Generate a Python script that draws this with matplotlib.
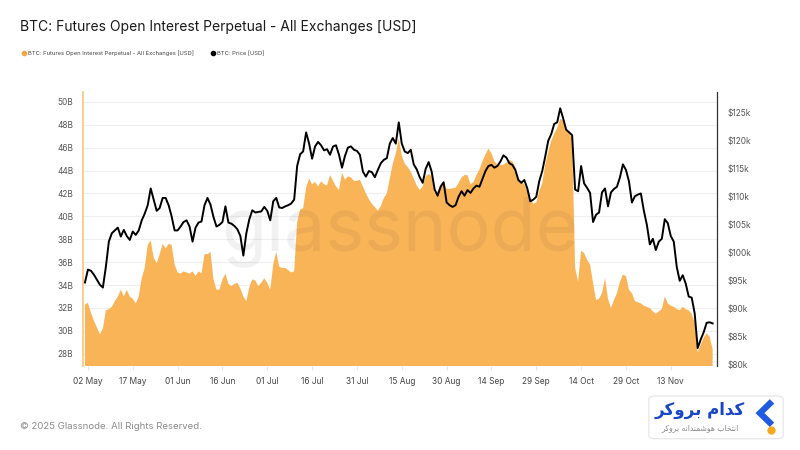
import matplotlib.pyplot as plt
import matplotlib.dates as mdates
import pandas as pd
from matplotlib.lines import Line2D
from matplotlib.patches import FancyBboxPatch

plt.rcParams['font.family'] = ['Inter', 'DejaVu Sans']

# daily values, starting 1 May 2025
start_date = "2025-05-01"

oi_billions = [
    32.3, 32.45, 31.6, 30.9, 30.3, 29.7, 30.2, 31.8, 31.9, 32.1,
    32.6, 33.0, 33.6, 33.0, 33.6, 33.0, 32.8, 32.4, 33.0, 34.6,
    35.5, 37.5, 37.9, 36.4, 35.9, 36.7, 37.6, 37.2, 37.6, 37.5,
    35.8, 35.1, 35.0, 35.2, 35.1, 35.0, 35.2, 34.8, 35.2, 35.0,
    36.7, 36.7, 36.9, 34.5, 33.6, 33.6, 34.5, 35.0, 34.1, 33.9,
    34.1, 34.2, 33.7, 33.0, 32.6, 33.8, 34.5, 34.4, 33.9, 34.2,
    34.6, 34.2, 33.6, 35.8, 36.9, 35.6, 35.5, 35.5, 35.3, 35.1,
    35.2, 39.5, 40.6, 40.7, 42.5, 43.3, 42.8, 43.0, 42.6, 43.05,
    42.8, 42.7, 43.6, 43.1, 42.6, 42.3, 43.8, 43.2, 43.5, 43.4,
    43.1, 43.1, 43.2, 42.6, 42.0, 41.5, 41.1, 40.8, 40.5, 40.9,
    41.6, 42.0, 43.3, 44.6, 45.5, 46.8, 45.3, 44.6, 44.3, 43.9,
    43.3, 42.7, 42.3, 42.6, 43.5, 43.7, 43.5, 42.0, 42.2, 42.8,
    43.0, 42.4, 42.4, 42.45, 42.5, 42.9, 43.4, 43.6, 43.6, 42.8,
    43.0, 43.6, 44.1, 44.8, 45.4, 45.9, 45.5, 44.8, 44.5, 44.5,
    44.5, 44.7, 44.9, 44.8, 44.3, 43.4, 43.0, 42.8, 42.2, 41.5,
    41.1, 41.2, 42.2, 42.9, 44.5, 45.6, 46.6, 47.2, 47.7, 48.5,
    48.4, 47.6, 47.2, 46.8, 35.5, 34.3, 37.0, 36.8, 36.2, 35.8,
    34.2, 32.7, 32.8, 33.3, 34.6, 32.8, 32.0, 32.7, 33.3, 34.3,
    34.9, 34.8, 33.6, 33.3, 32.6, 32.5, 32.4, 32.2, 32.1, 32.0,
    31.7, 31.5, 31.7, 31.9, 33.0, 32.4, 32.2, 32.1, 31.9, 31.8,
    32.1, 31.9, 31.8, 31.5, 30.7, 28.1, 28.8, 29.4, 29.8, 29.5,
    28.4,
]

price_k = [
    94.7, 97.0, 96.8, 96.1, 95.2, 94.3, 93.8, 97.5, 102.0, 103.5,
    104.0, 104.5, 102.9, 104.1, 103.0, 102.3, 103.8, 103.2, 104.0, 105.8,
    107.0, 108.5, 111.5, 109.5, 107.5, 108.0, 109.8, 109.8, 108.5, 106.5,
    104.0, 104.0, 104.7, 105.5, 105.8, 104.7, 102.0, 104.5, 105.4, 105.6,
    108.5, 109.8, 108.6, 106.4, 104.7, 105.0, 105.5, 108.3, 105.4, 105.2,
    104.8, 104.2, 103.0, 99.5, 103.5, 106.0, 107.6, 107.2, 107.3, 107.4,
    108.2, 107.5, 105.8, 109.2, 109.8, 108.1, 108.0, 108.3, 108.5, 108.8,
    109.5, 115.5, 117.6, 118.1, 121.5, 119.5, 116.8, 119.0, 119.8, 119.2,
    118.3, 118.5, 117.5, 119.0, 119.2, 117.5, 115.2, 117.3, 118.8, 119.0,
    118.4, 118.2, 117.5, 114.5, 113.6, 114.6, 114.4, 113.5, 114.8, 116.0,
    116.6, 116.9, 119.5, 120.5, 119.5, 123.3, 119.5, 118.1, 117.8, 118.4,
    115.8, 114.9, 113.5, 112.5, 115.0, 116.2, 114.5, 111.3, 110.2, 111.8,
    112.6, 109.0, 108.5, 108.2, 108.5, 110.0, 111.0, 110.2, 111.2, 110.7,
    111.5, 112.0, 111.8, 113.2, 114.6, 115.5, 115.7, 115.2, 115.5, 116.3,
    117.4, 117.0, 116.0, 115.7, 114.8, 113.0, 112.5, 113.0, 111.5, 109.2,
    109.5, 110.0, 112.8, 114.6, 117.2, 120.0, 121.2, 123.0, 123.3, 125.8,
    124.0, 122.0, 121.5, 121.0, 111.3, 111.0, 115.5, 112.4, 111.6, 110.7,
    105.5, 106.8, 107.2, 110.8, 111.5, 108.3, 110.8, 111.4, 111.8, 113.5,
    115.8, 114.8, 112.8, 109.0, 110.1, 110.4, 110.6, 107.5, 105.0, 101.5,
    102.5, 100.5, 102.0, 102.5, 106.0, 105.3, 103.0, 102.0, 97.5, 95.0,
    96.0, 94.5, 92.2, 92.0, 89.2, 83.0, 84.5, 85.8, 87.5, 87.6,
    87.4,
]

x_tick_dates = ["2025-05-02", "2025-05-17", "2025-06-01", "2025-06-16", "2025-07-01",
                "2025-07-16", "2025-07-31", "2025-08-15", "2025-08-30", "2025-09-14",
                "2025-09-29", "2025-10-14", "2025-10-29", "2025-11-13"]
x_tick_labels = ["02 May", "17 May", "01 Jun", "16 Jun", "01 Jul", "16 Jul", "31 Jul",
                 "15 Aug", "30 Aug", "14 Sep", "29 Sep", "14 Oct", "29 Oct", "13 Nov"]
oi_ticks = [28, 30, 32, 34, 36, 38, 40, 42, 44, 46, 48, 50]
price_ticks = [80, 85, 90, 95, 100, 105, 110, 115, 120, 125]

dates = pd.date_range(start_date, periods=len(oi_billions), freq="D")

orange = '#F9B458'
fig = plt.figure(figsize=(8, 4.5), dpi=100)
ax = fig.add_axes([0.104, 0.187, 0.792, 0.609])

ax.fill_between(dates, oi_billions, 0, color=orange, lw=0, zorder=2)
ax.set_ylim(26.95, 50.87)
ax.set_xlim(dates[0] - pd.Timedelta(hours=14), dates[0] + pd.Timedelta(days=211.4))
ax.set_yticks(oi_ticks)
ax.set_yticklabels([f"{v}B" for v in oi_ticks])
ax.grid(axis='y', color='#efefef', lw=0.8, zorder=0)
ax.set_xticks(pd.to_datetime(x_tick_dates))
ax.set_xticklabels(x_tick_labels)
ax.tick_params(axis='x', length=3, color='#e6e6e6', labelsize=6, labelcolor='#444', pad=5)
ax.tick_params(axis='y', length=0, labelsize=6, labelcolor='#555', pad=7)
for s in ['top', 'right', 'bottom']:
    ax.spines[s].set_visible(False)
ax.spines['left'].set_color('#F7C57E')
ax.spines['left'].set_linewidth(1.2)

# watermark
ax.text(0.5, 0.49, "glassnode", transform=ax.transAxes, ha='center', va='center',
        fontsize=53, color='black', alpha=0.055, zorder=3)

ax2 = ax.twinx()
ax2.plot(dates, price_k, color='black', lw=1.4)
ax2.set_ylim(79.82, 128.75)
ax2.set_yticks(price_ticks)
ax2.set_yticklabels([f"${v}k" for v in price_ticks])
ax2.tick_params(axis='y', length=0, labelsize=6, labelcolor='#555', pad=8)
for s in ['top', 'left', 'bottom']:
    ax2.spines[s].set_visible(False)
ax2.spines['right'].set_color('#333333')
ax2.spines['right'].set_linewidth(0.9)

fig.text(0.025, 0.94, "BTC: Futures Open Interest Perpetual - All Exchanges [USD]",
         fontsize=10, color='#1a1a1a', va='center', ha='left')

handles = [Line2D([], [], marker='o', color='#F7A53A', linestyle='none', markersize=3),
           Line2D([], [], marker='o', color='black', linestyle='none', markersize=3)]
fig.legend(handles, ["BTC: Futures Open Interest Perpetual - All Exchanges [USD]", "BTC: Price [USD]"],
           loc='center left', bbox_to_anchor=(0.02, 0.882), ncol=2, frameon=False,
           fontsize=4.2, handletextpad=0.3, columnspacing=3.0, handlelength=0.8,
           labelcolor='#444')

fig.text(0.025, 0.053, "\u00a9 2025 Glassnode. All Rights Reserved.", fontsize=6.9,
         color='#8a8a8a', va='center', ha='left')

# broker logo, bottom right (Persian text given in presentation forms, visual order)
box = FancyBboxPatch((0.811, 0.025), 0.168, 0.095, boxstyle="round,pad=0,rounding_size=0.008",
                     transform=fig.transFigure, facecolor='white', edgecolor='#e4e4e4', lw=0.8)
fig.add_artist(box)
fig.text(0.875, 0.089, "\ufeae\ufb90\ufeed\ufeae\ufe91 \ufee1\ufe8d\ufeaa\ufb90",
         family=['DejaVu Sans'], fontweight='bold', fontsize=12, color='#1747C8',
         ha='center', va='center')
fig.text(0.875, 0.049,
         "\ufeae\ufb90\ufeed\ufeae\ufe91 \ufeea\ufee7\ufe8d\ufeaa\ufee8\ufee4\ufeb7\ufeee\ufeeb \ufe8f\ufe8e\ufea8\ufe98\ufee7\ufe8d",
         family=['DejaVu Sans'], fontsize=5.5, color='#8a8a8a', ha='center', va='center')
fig.add_artist(Line2D([0.9650, 0.9500, 0.9650], [0.1080, 0.0820, 0.0560],
                      transform=fig.transFigure, color='#1F5BE0', lw=4.5,
                      solid_joinstyle='miter', solid_capstyle='butt'))
fig.add_artist(Line2D([0.964], [0.044], transform=fig.transFigure, marker='o',
                      color='#F7A823', markersize=5, linestyle='none'))

fig.savefig("out.png", dpi=100)
